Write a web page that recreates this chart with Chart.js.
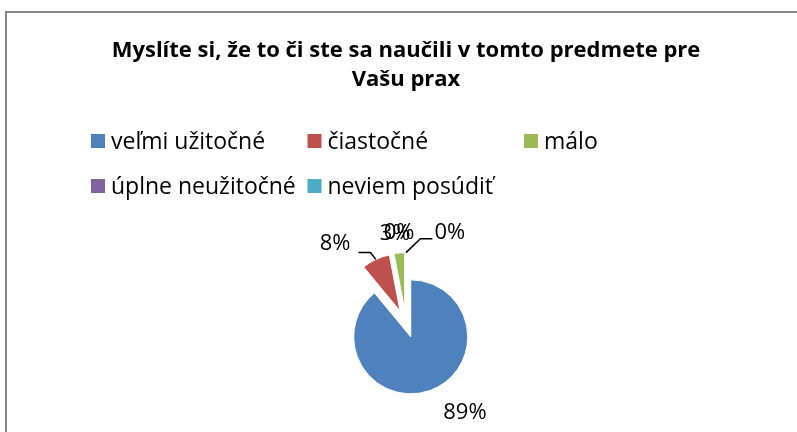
<!DOCTYPE html>
<html>
<head>
<meta charset="utf-8">
<script src="https://cdn.jsdelivr.net/npm/chart.js@4"></script>
<style>
  body { margin: 0; background: #fff; }
  #wrap { width: 797px; height: 432px; }
</style>
</head>
<body>
<div id="wrap"><canvas id="myChart"></canvas></div>
<script>
// answers (legend / slice labels)
var labels = ['veľmi užitočné', 'čiastočné', 'málo', 'úplne neužitočné', 'neviem posúdiť'];
// share of answers in percent
var values = [89, 8, 3, 0, 0];
var colors = ['#4F81BD', '#C0504D', '#9BBB59', '#8064A2', '#4BACC6'];
var titleLines = ['Myslíte si, že to či ste sa naučili v tomto predmete pre', 'Vašu prax'];

var FONT = '"Open Sans", Lato, sans-serif';
var EXPLODE = 14; // px every slice is pulled out

// grey frame of the Excel chart object
var framePlugin = {
  id: 'frame',
  beforeDraw: function(chart) {
    var c = chart.ctx;
    c.save();
    c.fillStyle = '#fff';
    c.fillRect(0, 0, chart.width, chart.height);
    c.strokeStyle = '#878787';
    c.lineWidth = 2;
    c.strokeRect(6, 12, chart.width + 50, chart.height + 50);
    c.restore();
  }
};

// Excel style explosion: move each slice out along its middle angle,
// without the radius / angle changes chart.js applies for `offset`
var explodePlugin = {
  id: 'explode',
  beforeDatasetDraw: function(chart, args) {
    args.meta.data.forEach(function(arc) {
      if (arc._exploded) return;
      var draw = arc.draw;
      arc.draw = function(c, area) {
        var mid = (this.startAngle + this.endAngle) / 2;
        c.save();
        c.translate(Math.cos(mid) * EXPLODE, Math.sin(mid) * EXPLODE);
        draw.call(this, c, area);
        c.restore();
      };
      arc._exploded = true;
    });
  }
};

// legend on a fixed grid, 3 columns like Excel
var gridLegend = {
  id: 'gridLegend',
  afterDraw: function(chart, args, o) {
    var c = chart.ctx;
    var ds = chart.data.datasets[0];
    c.save();
    c.font = '23px ' + FONT;
    c.textBaseline = 'alphabetic';
    c.textAlign = 'left';
    chart.data.labels.forEach(function(lab, i) {
      var col = i % o.cols, row = Math.floor(i / o.cols);
      var x = o.x0 + col * o.colW;
      var y = o.y0 + row * o.rowH;
      c.fillStyle = ds.backgroundColor[i];
      c.fillRect(x, y - o.box / 2, o.box, o.box);
      c.fillStyle = '#000';
      c.fillText(lab, x + o.box + 6, y + 8);
    });
    c.restore();
  }
};

// percent labels outside the pie, with leader lines for some
var pieLabels = {
  id: 'pieLabels',
  afterDatasetsDraw: function(chart, args, o) {
    var c = chart.ctx;
    var meta = chart.getDatasetMeta(0);
    var total = values.reduce(function(a, b) { return a + b; }, 0);
    c.save();
    c.font = '22px ' + FONT;
    c.textAlign = 'center';
    c.textBaseline = 'middle';
    c.fillStyle = '#000';
    c.strokeStyle = '#000';
    c.lineWidth = 1.5;
    meta.data.forEach(function(arc, i) {
      var p = arc.getProps(['x', 'y', 'startAngle', 'endAngle', 'outerRadius'], true);
      var mid = (p.startAngle + p.endAngle) / 2;
      var pos = o.place[i];
      var a = mid + pos.tweak * Math.PI / 180;
      var lx = p.x + pos.d * Math.cos(a);
      var ly = p.y + pos.d * Math.sin(a);
      var txt = Math.round(values[i] / total * 100) + '%';
      c.fillText(txt, lx, ly);
      if (pos.leader) {
        var w = c.measureText(txt).width;
        var ex = p.x + (EXPLODE + p.outerRadius) * Math.cos(mid);
        var ey = p.y + (EXPLODE + p.outerRadius) * Math.sin(mid);
        var side = ex > lx ? 1 : -1;
        var sx = lx + side * (w / 2 + pos.gap);
        var hy = ly + pos.dy;
        c.beginPath();
        c.moveTo(sx, hy);
        c.lineTo(sx + side * 12, hy);
        c.lineTo(ex, ey);
        c.stroke();
      }
    });
    c.restore();
  }
};

var ctx = document.getElementById('myChart').getContext('2d');
var myChart = new Chart(ctx, {
  type: 'pie',
  data: {
    labels: labels,
    datasets: [{
      data: values,
      backgroundColor: colors,
      borderColor: '#fff',
      borderWidth: 1,
      hoverOffset: 0
    }]
  },
  options: {
    responsive: true,
    maintainAspectRatio: false,
    animation: false,
    radius: 57,
    layout: { padding: { left: 15, right: 0, top: 0, bottom: 0 } },
    plugins: {
      legend: { display: false },
      tooltip: { enabled: false },
      title: {
        display: true,
        text: titleLines,
        color: '#000',
        font: { family: FONT, size: 22, weight: 'bold', lineHeight: 1.28 },
        padding: { top: 37, bottom: 122 }
      },
      gridLegend: { x0: 91, colW: 216.5, y0: 141, rowH: 45, box: 14, cols: 3 },
      pieLabels: {
        place: [
          { tweak: -13.6, d: 107 },
          { tweak: -16.3, d: 107, leader: true, gap: 8, dy: 9 },
          { tweak: -1.5, d: 91 },
          { tweak: -4.4, d: 91 },
          { tweak: 25.7, d: 101, leader: true, gap: 2, dy: 6 }
        ]
      }
    }
  },
  plugins: [framePlugin, explodePlugin, gridLegend, pieLabels]
});
</script>
</body>
</html>
